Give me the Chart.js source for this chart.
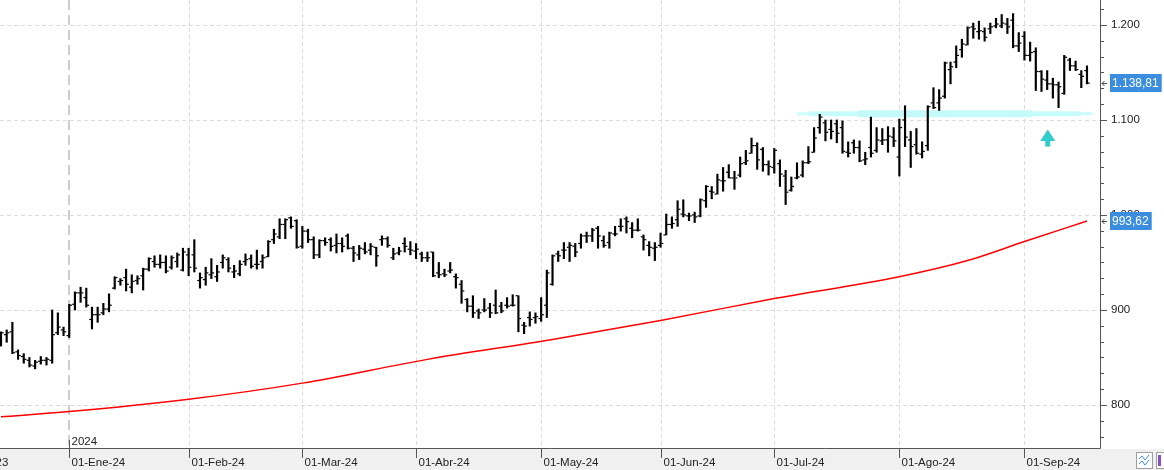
<!DOCTYPE html>
<html>
<head>
<meta charset="utf-8">
<script src="https://cdn.jsdelivr.net/npm/chart.js@4.4.1/dist/chart.umd.min.js"></script>
<style>
  html, body { margin: 0; padding: 0; background: #fff; }
  #wrap { width: 1164px; height: 470px; }
</style>
</head>
<body>
<div id="wrap"><canvas id="grafico" width="1164" height="470"></canvas></div>
<script>
// Barras diarias OHLC (desde mediados de dic-23 hasta sep-24)
const openP = [
  866, 874, 877, 856, 851, 847, 841, 846, 847, 847,
  876, 879, 873, 906, 918, 913, 890, 895, 897, 901,
  923, 930, 934, 924, 931, 936, 943, 951, 948, 950,
  945, 951, 942, 958, 958, 931, 932, 937, 935, 950,
  953, 940, 938, 951, 954, 948, 951, 956, 974, 977,
  990, 997, 994, 967, 983, 974, 958, 973, 974, 968,
  970, 978, 965, 958, 964, 963, 966, 974, 975, 955,
  960, 970, 964, 962, 959, 955, 961, 939, 938, 941,
  935, 927, 911, 904, 899, 900, 902, 905, 904, 905,
  905, 915, 884, 892, 892, 891, 905, 927, 959, 963,
  966, 967, 970, 978, 978, 986, 973, 971, 980, 988,
  996, 986, 984, 977, 968, 965, 968, 979, 990, 995,
  1001, 999, 1000, 999, 1015, 1025, 1022, 1036, 1045, 1039,
  1042, 1055, 1065, 1073, 1069, 1053, 1050, 1054, 1041, 1026,
  1039, 1042, 1055, 1066, 1092, 1097, 1090, 1096, 1092, 1066,
  1076, 1071, 1058, 1071, 1068, 1078, 1079, 1082, 1061, 1100,
  1079, 1074, 1064, 1073, 1118, 1118, 1125, 1153, 1161, 1174,
  1179, 1198, 1193, 1193, 1196, 1199, 1199, 1201, 1205, 1178,
  1188, 1168, 1172, 1151, 1142, 1138, 1137, 1128, 1163, 1157,
  1148, 1152
];
const highP = [
  877, 879, 887, 858, 854, 850, 847, 851, 850, 900,
  897, 882, 906, 919, 924, 923, 903, 903, 907, 917,
  935, 933, 943, 937, 936, 944, 955, 957, 958, 957,
  957, 960, 965, 965, 974, 939, 945, 954, 947, 958,
  955, 947, 952, 959, 958, 963, 958, 973, 985, 996,
  996, 998, 995, 988, 985, 977, 974, 976, 976, 980,
  976, 980, 967, 968, 971, 970, 966, 978, 977, 965,
  966, 976, 972, 970, 961, 961, 961, 950, 943, 950,
  938, 931, 912, 915, 901, 912, 907, 921, 908, 913,
  916, 915, 887, 898, 897, 913, 942, 958, 962, 971,
  971, 970, 980, 982, 986, 988, 978, 982, 988, 996,
  998, 992, 996, 979, 972, 971, 981, 1001, 998, 1015,
  1016, 1002, 1003, 1017, 1031, 1030, 1043, 1050, 1053, 1046,
  1061, 1068, 1081, 1076, 1071, 1057, 1070, 1058, 1047, 1040,
  1055, 1057, 1072, 1092, 1106, 1100, 1100, 1100, 1099, 1077,
  1079, 1078, 1066, 1103, 1092, 1091, 1093, 1092, 1101, 1115,
  1088, 1091, 1077, 1115, 1134, 1132, 1161, 1161, 1178, 1185,
  1198, 1202, 1204, 1197, 1202, 1207, 1211, 1207, 1212, 1192,
  1193, 1182, 1176, 1152, 1152, 1144, 1140, 1168, 1165, 1162,
  1152, 1157
];
const lowP = [
  862, 866, 854, 848, 844, 840, 838, 843, 842, 844,
  874, 873, 871, 900, 908, 903, 880, 887, 895, 898,
  922, 926, 920, 918, 927, 921, 941, 945, 944, 939,
  943, 945, 941, 936, 940, 923, 926, 933, 930, 944,
  940, 934, 936, 947, 944, 943, 944, 956, 970, 975,
  975, 986, 965, 965, 971, 954, 955, 968, 962, 960,
  961, 964, 951, 953, 959, 958, 946, 968, 966, 953,
  958, 961, 958, 954, 951, 951, 935, 934, 935, 939,
  923, 907, 898, 892, 891, 898, 892, 896, 897, 902,
  904, 877, 875, 883, 886, 888, 892, 926, 951, 954,
  951, 956, 965, 971, 972, 965, 966, 965, 978, 983,
  981, 976, 983, 963, 957, 952, 966, 979, 986, 988,
  998, 994, 992, 998, 1008, 1017, 1022, 1025, 1039, 1027,
  1040, 1053, 1065, 1048, 1046, 1042, 1044, 1030, 1011, 1025,
  1038, 1040, 1054, 1066, 1086, 1078, 1080, 1076, 1065, 1061,
  1065, 1056, 1053, 1061, 1066, 1074, 1066, 1072, 1041, 1072,
  1050, 1064, 1060, 1068, 1112, 1110, 1123, 1138, 1155, 1166,
  1179, 1186, 1185, 1183, 1191, 1197, 1197, 1191, 1176, 1172,
  1163, 1162, 1131, 1130, 1132, 1123, 1113, 1127, 1152, 1152,
  1134, 1138
];
const closeP = [
  876, 876, 855, 852, 848, 842, 845, 847, 848, 874,
  882, 877, 905, 918, 918, 905, 895, 895, 901, 905,
  934, 931, 927, 930, 933, 943, 954, 948, 950, 941,
  955, 958, 961, 945, 944, 934, 939, 939, 940, 955,
  944, 941, 948, 953, 946, 948, 955, 972, 980, 990,
  995, 988, 966, 983, 974, 958, 973, 971, 967, 970,
  967, 965, 960, 965, 961, 967, 957, 975, 968, 959,
  962, 967, 963, 964, 955, 955, 936, 937, 937, 942,
  934, 920, 904, 897, 897, 900, 897, 897, 899, 904,
  905, 891, 883, 890, 893, 895, 939, 957, 957, 963,
  968, 961, 978, 978, 984, 978, 968, 981, 980, 988,
  993, 984, 984, 974, 966, 966, 970, 990, 991, 1006,
  1000, 999, 998, 1016, 1030, 1024, 1037, 1036, 1039, 1039,
  1054, 1057, 1073, 1058, 1053, 1051, 1068, 1043, 1024, 1030,
  1040, 1055, 1056, 1081, 1103, 1087, 1088, 1086, 1067, 1065,
  1071, 1057, 1059, 1065, 1079, 1079, 1083, 1078, 1092, 1082,
  1072, 1065, 1067, 1114, 1113, 1123, 1160, 1156, 1168, 1180,
  1197, 1196, 1194, 1187, 1198, 1201, 1202, 1198, 1178, 1181,
  1168, 1171, 1151, 1143, 1138, 1137, 1135, 1166, 1157, 1153,
  1146, 1138.81
];

// Media móvil (roja): puntos (índice de barra, valor)
const mediaIdx = [0, 12, 33, 53, 75, 97, 116, 136, 158, 170, 180, 191];
const mediaVal = [787.5, 793, 806, 823, 848, 869, 889, 912, 935, 952, 972, 993.62];

// Eje X: primer día de cada mes (índice de barra) y etiquetas
const monthIdx = [-7.9, 12, 33, 53, 73, 95, 116, 136, 158, 180];
const monthLabels = ['01-Dic-23', '01-Ene-24', '01-Feb-24', '01-Mar-24', '01-Abr-24',
                     '01-May-24', '01-Jun-24', '01-Jul-24', '01-Ago-24', '01-Sep-24'];
const yearIdx = 12;
const yearLabel = '2024';

// Eje Y
const yTicks = [800, 900, 1000, 1100, 1200];

// Zona de soporte (banda cian) y flecha
const bandLevel = 1106.6;
const bandThin = [140, 192];
const bandMid = [142.1, 189.9];
const bandThick = [150.7, 181.3];
const arrowIdx = 184.1;
const arrowTop = 1090;
const arrowBase = 1078;
const arrowBottom = 1072;

const FONT = '"Liberation Sans", Arial, sans-serif';

const fmtMiles = v => {
  const s = Math.round(v).toString();
  return s.length > 3 ? s.slice(0, -3) + '.' + s.slice(-3) : s;
};
const fmtPrecio = v => {
  const [ent, dec] = v.toFixed(2).split('.');
  return fmtMiles(+ent) + ',' + dec;
};

const barras = openP.map((o, i) => ({ x: i, y: [lowP[i], highP[i]] }));
const media = mediaIdx.map((m, i) => ({ x: m, y: mediaVal[i] }));
const tramo = r => r.map(v => ({ x: v, y: bandLevel }));

// Rejilla, ticks de apertura/cierre, eje inferior y etiquetas de precio
const adornos = {
  id: 'adornos',
  beforeDatasetsDraw(chart) {
    const { ctx, chartArea: a, scales: { x, y } } = chart;
    ctx.save();
    ctx.lineWidth = 1;
    ctx.strokeStyle = '#dcdcdc';
    ctx.setLineDash([4, 3]);
    yTicks.forEach(v => {
      const py = Math.round(y.getPixelForValue(v)) + 0.5;
      ctx.beginPath(); ctx.moveTo(a.left, py); ctx.lineTo(a.right, py); ctx.stroke();
    });
    monthIdx.forEach(m => {
      if (m === yearIdx || m < 0) return;
      const px = Math.round(x.getPixelForValue(m)) + 0.5;
      ctx.beginPath(); ctx.moveTo(px, a.top); ctx.lineTo(px, a.bottom); ctx.stroke();
    });
    const yx = Math.round(x.getPixelForValue(yearIdx));
    ctx.strokeStyle = '#cdcdcd';
    ctx.lineWidth = 2;
    ctx.setLineDash([10, 5]);
    ctx.beginPath(); ctx.moveTo(yx, a.top); ctx.lineTo(yx, a.bottom); ctx.stroke();
    ctx.restore();
  },
  afterDatasetsDraw(chart) {
    const { ctx, scales: { x, y } } = chart;
    ctx.save();
    ctx.fillStyle = '#000';
    openP.forEach((o, i) => {
      const px = x.getPixelForValue(i);
      ctx.fillRect(px - 2.75, y.getPixelForValue(o) - 0.6, 2, 1.2);
      ctx.fillRect(px + 0.75, y.getPixelForValue(closeP[i]) - 0.6, 2, 1.2);
    });
    // flecha cian
    const ax = x.getPixelForValue(arrowIdx);
    const at = y.getPixelForValue(arrowTop);
    const ab = y.getPixelForValue(arrowBase);
    const abot = y.getPixelForValue(arrowBottom);
    ctx.fillStyle = '#33cccc';
    ctx.beginPath();
    ctx.moveTo(ax, at); ctx.lineTo(ax + 7.5, ab); ctx.lineTo(ax - 7.5, ab); ctx.closePath();
    ctx.fill();
    ctx.fillRect(ax - 2.5, ab, 5, abot - ab);
    ctx.restore();
  },
  afterDraw(chart) {
    const { ctx, chartArea: a, scales: { x, y }, width, height } = chart;
    ctx.save();
    // banda inferior
    ctx.fillStyle = '#f0f0f0';
    ctx.fillRect(0, a.bottom + 1, width, height - a.bottom - 1);
    ctx.strokeStyle = '#555';
    ctx.lineWidth = 1;
    ctx.beginPath();
    ctx.moveTo(0, a.bottom + 0.5); ctx.lineTo(a.right + 0.5, a.bottom + 0.5);
    ctx.moveTo(a.right + 0.5, 0); ctx.lineTo(a.right + 0.5, a.bottom + 0.5);
    ctx.stroke();
    // marcas del eje Y (cada 100/6)
    ctx.beginPath();
    for (let k = -3; k <= 27; k++) {
      const v = 800 + k * 100 / 6;
      if (v < y.min || v > y.max) continue;
      const py = Math.round(y.getPixelForValue(v)) + 0.5;
      ctx.moveTo(a.right, py); ctx.lineTo(a.right + (k % 6 === 0 ? 7 : 4), py);
    }
    ctx.stroke();
    // meses
    ctx.font = '11.5px ' + FONT;
    ctx.fillStyle = '#222';
    ctx.textAlign = 'left';
    ctx.textBaseline = 'alphabetic';
    ctx.beginPath();
    monthIdx.forEach((m, i) => {
      const px = Math.round(x.getPixelForValue(m)) + 0.5;
      ctx.moveTo(px, a.bottom); ctx.lineTo(px, a.bottom + 10);
      ctx.fillText(monthLabels[i], px + 2, a.bottom + 18);
    });
    const yx = Math.round(x.getPixelForValue(yearIdx)) + 0.5;
    ctx.moveTo(yx, a.bottom - 8); ctx.lineTo(yx, a.bottom);
    ctx.stroke();
    ctx.fillText(yearLabel, yx + 2, a.bottom - 3);
    // etiquetas de último precio y media
    const etiqueta = v => {
      const py = y.getPixelForValue(v);
      const txt = fmtPrecio(v);
      ctx.font = '12px ' + FONT;
      const w = ctx.measureText(txt).width + 5;
      ctx.fillStyle = '#3b8de0';
      ctx.fillRect(a.right + 10, Math.round(py) - 9, w, 18);
      ctx.fillStyle = '#fff';
      ctx.textBaseline = 'middle';
      ctx.fillText(txt, a.right + 12, Math.round(py) + 1);
      ctx.strokeStyle = '#444';
      ctx.beginPath();
      const ry = Math.round(py) + 0.5;
      ctx.moveTo(a.right + 2, ry); ctx.lineTo(a.right + 7, ry);
      ctx.moveTo(a.right + 2, ry); ctx.lineTo(a.right + 4.5, ry - 2.5);
      ctx.moveTo(a.right + 2, ry); ctx.lineTo(a.right + 4.5, ry + 2.5);
      ctx.stroke();
    };
    etiqueta(closeP[closeP.length - 1]);
    etiqueta(mediaVal[mediaVal.length - 1]);
    // iconos inferiores
    ctx.fillStyle = '#fff';
    ctx.strokeStyle = '#a0a0a0';
    ctx.fillRect(1136, 452, 16, 16);
    ctx.strokeRect(1136.5, 452.5, 16, 16);
    ctx.strokeStyle = '#3a8fd8';
    ctx.beginPath();
    ctx.moveTo(1139, 459); ctx.lineTo(1142, 456); ctx.lineTo(1145, 460); ctx.lineTo(1149, 455);
    ctx.moveTo(1139, 464); ctx.lineTo(1142, 461); ctx.lineTo(1145, 465); ctx.lineTo(1149, 460);
    ctx.stroke();
    ctx.fillStyle = '#fff';
    ctx.strokeStyle = '#a0a0a0';
    ctx.fillRect(1156, 452, 10, 16);
    ctx.strokeRect(1156.5, 452.5, 10, 16);
    ctx.fillStyle = '#8a4fc8';
    ctx.fillRect(1158, 455, 3, 11);
    ctx.restore();
  }
};

new Chart(document.getElementById('grafico'), {
  type: 'bar',
  data: {
    datasets: [
      {
        type: 'bar',
        data: barras,
        backgroundColor: '#000',
        borderWidth: 0,
        barThickness: 1.5,
        grouped: false,
        order: 0
      },
      {
        type: 'line',
        data: media,
        borderColor: '#ff0000',
        borderWidth: 1.5,
        pointRadius: 0,
        cubicInterpolationMode: 'monotone',
        order: 1
      },
      {
        type: 'line',
        data: tramo(bandThin),
        borderColor: '#cdfcfc',
        borderWidth: 3,
        pointRadius: 0,
        order: 4
      },
      {
        type: 'line',
        data: tramo(bandMid),
        borderColor: '#c8fbfb',
        borderWidth: 5,
        pointRadius: 0,
        order: 3
      },
      {
        type: 'line',
        data: tramo(bandThick),
        borderColor: '#c4fafa',
        borderWidth: 7,
        pointRadius: 0,
        order: 2
      }
    ]
  },
  options: {
    responsive: false,
    animation: false,
    events: [],
    layout: { padding: 0 },
    plugins: {
      legend: { display: false },
      tooltip: { enabled: false }
    },
    scales: {
      x: {
        type: 'linear',
        position: 'bottom',
        min: -0.176,
        max: 193.29,
        offset: false,
        grid: { display: false },
        border: { display: false },
        ticks: { display: false },
        afterFit(scale) {
          scale.height = 22;
          scale.paddingLeft = 0;
          scale.paddingRight = 0;
        }
      },
      y: {
        type: 'linear',
        position: 'right',
        min: 754.7,
        max: 1226.3,
        grid: { display: false, drawTicks: true, tickLength: 7 },
        border: { display: false },
        afterBuildTicks(scale) {
          scale.ticks = yTicks.map(v => ({ value: v }));
        },
        ticks: {
          padding: 4,
          color: '#222',
          font: { family: FONT, size: 11.5 },
          callback: v => fmtMiles(v)
        },
        afterFit(scale) {
          scale.width = 64;
          scale.paddingTop = 0;
          scale.paddingBottom = 0;
        }
      }
    }
  },
  plugins: [adornos]
});
</script>
</body>
</html>
